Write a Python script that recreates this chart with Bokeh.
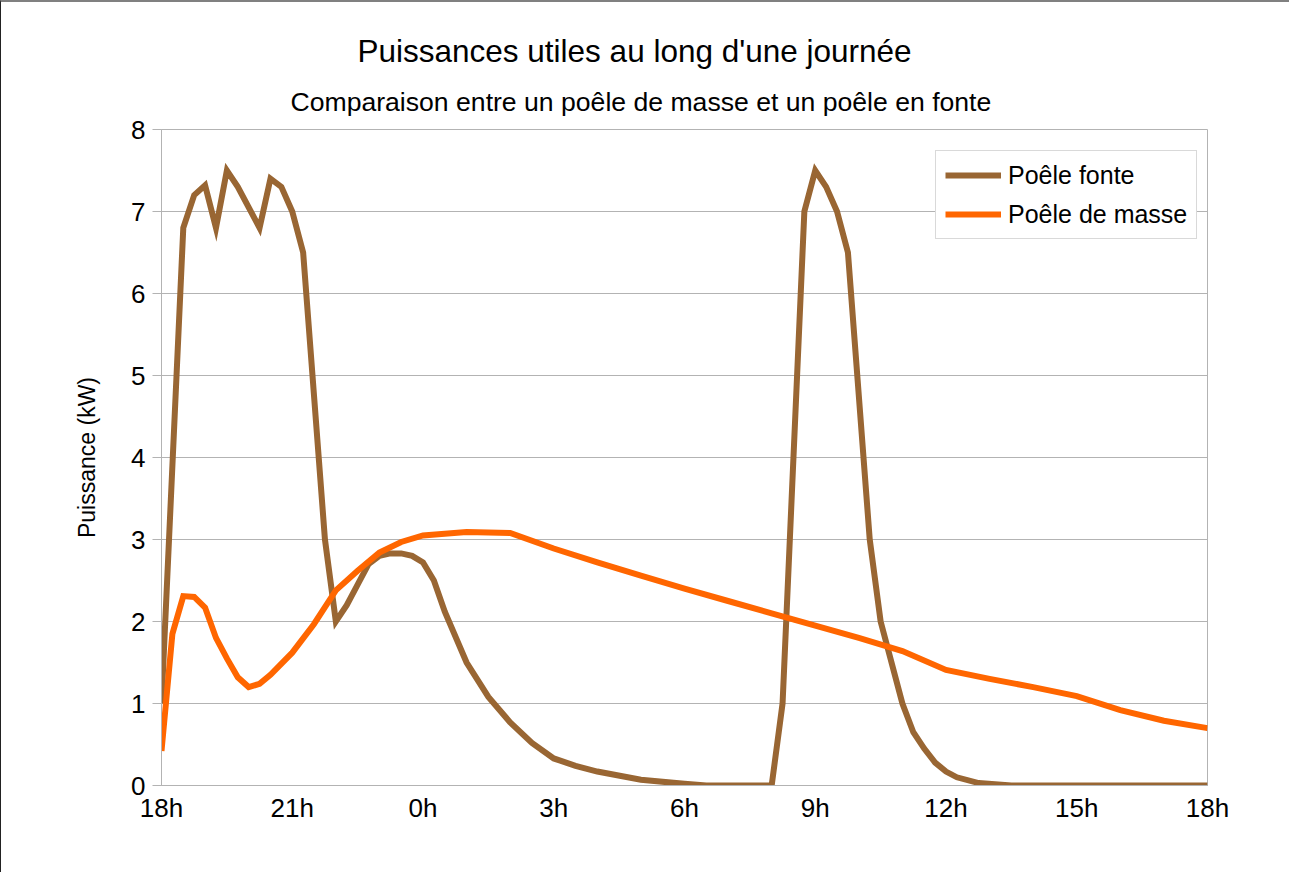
from bokeh.plotting import figure
from bokeh.models import Range1d, FixedTicker, Legend, LegendItem, Title
from bokeh.embed import file_html
from bokeh.resources import INLINE

title_text = "Puissances utiles au long d'une journée"
subtitle_text = "Comparaison entre un poêle de masse et un poêle en fonte"
y_label = "Puissance (kW)"
series_names = ["Poêle fonte", "Poêle de masse"]

# hours elapsed since 18h
x_tick_positions = [0, 3, 6, 9, 12, 15, 18, 21, 24]
x_tick_labels = ["18h", "21h", "0h", "3h", "6h", "9h", "12h", "15h", "18h"]
y_ticks = [0, 1, 2, 3, 4, 5, 6, 7, 8]

fonte_hours = [0, 0.5, 0.75, 1.0, 1.25, 1.5, 1.75, 2.25, 2.5, 2.75, 3.0, 3.25, 3.75, 4.0,
               4.25, 4.5, 4.75, 5.0, 5.25, 5.5, 5.75, 6.0, 6.25, 6.5, 7.0, 7.5, 8.0, 8.5,
               9.0, 9.5, 10.0, 11.0, 12.0, 12.5, 14.0, 14.25, 14.75, 15.0, 15.25, 15.5,
               15.75, 16.25, 16.5, 17.0, 17.25, 17.5, 17.75, 18.0, 18.25, 18.75, 19.5, 24.0]
fonte_kw = [1.0, 6.8, 7.2, 7.32, 6.8, 7.5, 7.3, 6.8, 7.4, 7.3, 7.0, 6.5, 3.0, 2.0,
            2.2, 2.45, 2.7, 2.8, 2.83, 2.83, 2.8, 2.72, 2.5, 2.12, 1.5, 1.08, 0.77, 0.52,
            0.33, 0.24, 0.17, 0.07, 0.02, 0.0, 0.0, 1.0, 7.0, 7.5, 7.3, 7.0,
            6.5, 3.0, 2.0, 1.0, 0.65, 0.45, 0.28, 0.17, 0.1, 0.03, 0.0, 0.0]

masse_hours = [0, 0.25, 0.5, 0.75, 1.0, 1.25, 1.5, 1.75, 2.0, 2.25, 2.5, 3.0, 3.5, 4.0, 4.5,
               5.0, 5.5, 6.0, 7.0, 8.0, 9.0, 10.0, 11.0, 12.0, 13.0, 14.0, 15.0, 16.0,
               17.0, 18.0, 19.0, 20.0, 21.0, 22.0, 23.0, 24.0]
masse_kw = [0.42, 1.85, 2.31, 2.30, 2.17, 1.80, 1.55, 1.32, 1.20, 1.24, 1.35, 1.62, 1.97, 2.38,
            2.62, 2.84, 2.97, 3.05, 3.09, 3.08, 2.89, 2.72, 2.56, 2.40, 2.25, 2.10, 1.95, 1.80,
            1.64, 1.41, 1.30, 1.20, 1.09, 0.92, 0.79, 0.70]

FONT = "Liberation Sans"
BROWN = "#996633"
ORANGE = "#ff6600"
GRID = "#b3b3b3"

p = figure(width=1289, height=872, x_range=Range1d(0, 24), y_range=Range1d(0, 8),
           output_backend="svg", toolbar_location=None,
           min_border_left=160, min_border_right=83, min_border_top=127, min_border_bottom=89,
           background_fill_color="white", border_fill_color="white",
           outline_line_color=GRID, outline_line_width=1)
p.styles = {"border-left": "1px solid #222222", "border-top": "2px solid #808080"}

# subtitle first (closest to the frame), then the main title above it
p.add_layout(Title(text=subtitle_text, align="left", offset=129, standoff=25,
                   text_font=FONT, text_font_size="26.6px", text_font_style="normal",
                   text_color="#000000"), "above")
p.add_layout(Title(text=title_text, align="left", offset=196, standoff=7,
                   text_font=FONT, text_font_size="31.5px", text_font_style="normal",
                   text_color="#000000"), "above")

p.xgrid.visible = False
p.ygrid.grid_line_color = GRID
p.ygrid.grid_line_width = 1
p.ygrid.ticker = FixedTicker(ticks=y_ticks)

xa = p.xaxis[0]
xa.ticker = FixedTicker(ticks=x_tick_positions)
xa.major_label_overrides = {pos: lab for pos, lab in zip(x_tick_positions, x_tick_labels)}
xa.axis_line_color = GRID
xa.major_tick_out = 0
xa.major_tick_in = 0
xa.minor_tick_out = 0
xa.minor_tick_in = 0
xa.major_label_standoff = 7
xa.major_label_text_font = FONT
xa.major_label_text_font_size = "26px"
xa.major_label_text_color = "#000000"

ya = p.yaxis[0]
ya.ticker = FixedTicker(ticks=y_ticks)
ya.axis_line_color = GRID
ya.major_tick_out = 9
ya.major_tick_in = 0
ya.major_tick_line_color = GRID
ya.minor_tick_out = 0
ya.minor_tick_in = 0
ya.major_label_standoff = 7
ya.major_label_text_font = FONT
ya.major_label_text_font_size = "26px"
ya.major_label_text_color = "#000000"
ya.axis_label = y_label
ya.axis_label_text_font = FONT
ya.axis_label_text_font_size = "23px"
ya.axis_label_text_font_style = "normal"
ya.axis_label_text_color = "#000000"
ya.axis_label_standoff = 28

r1 = p.line(fonte_hours, fonte_kw, line_color=BROWN, line_width=6, line_join="miter")
r2 = p.line(masse_hours, masse_kw, line_color=ORANGE, line_width=6, line_join="miter")

legend = Legend(items=[LegendItem(label=series_names[0], renderers=[r1]),
                       LegendItem(label=series_names[1], renderers=[r2])],
                location=(774, 546), orientation="vertical",
                border_line_color=GRID, border_line_width=1,
                background_fill_color="white", background_fill_alpha=1.0,
                label_text_font=FONT, label_text_font_size="25px", label_text_color="#000000",
                glyph_width=56, glyph_height=30, label_height=30, label_standoff=7,
                spacing=9, padding=9, margin=0)
p.add_layout(legend, "center")

open("out.html", "w").write(file_html(p, INLINE))
